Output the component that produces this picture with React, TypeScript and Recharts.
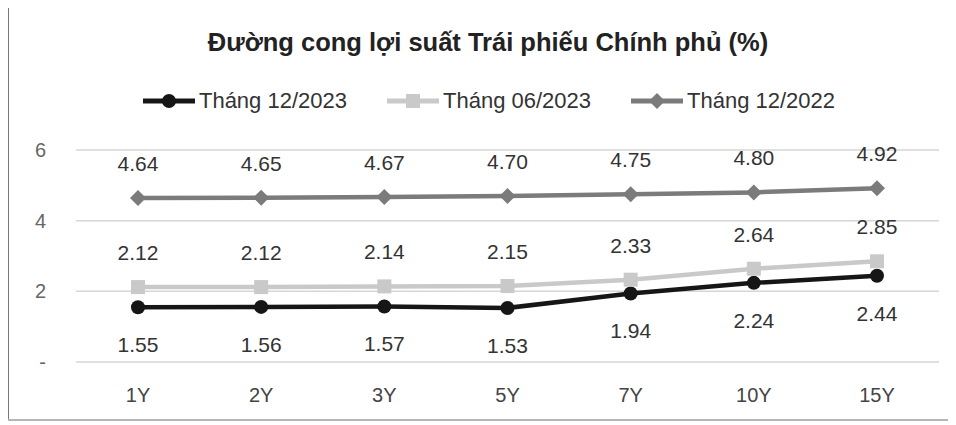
import React from "react"
import { LineChart, Line, XAxis, YAxis, CartesianGrid, Legend, LabelList } from "recharts"

const tenors = ["1Y", "2Y", "3Y", "5Y", "7Y", "10Y", "15Y"]
const dec2023 = [1.55, 1.56, 1.57, 1.53, 1.94, 2.24, 2.44]
const jun2023 = [2.12, 2.12, 2.14, 2.15, 2.33, 2.64, 2.85]
const dec2022 = [4.64, 4.65, 4.67, 4.7, 4.75, 4.8, 4.92]
const yTicks = [0, 2, 4, 6]
const seriesOrder = ["dec2023", "jun2023", "dec2022"]

const data = tenors.map((t, i) => ({
  tenor: t,
  dec2023: dec2023[i],
  jun2023: jun2023[i],
  dec2022: dec2022[i],
}))

const FONT = "'Liberation Sans', Arial, sans-serif"
const C_DEC23 = "#161616"
const C_JUN23 = "#c9c9c9"
const C_DEC22 = "#7b7b7b"

const markerFor = (key: string, color: string, cx: number, cy: number) => {
  if (key === "dec2023") return <circle cx={cx} cy={cy} r={7} fill={color} />
  if (key === "jun2023") return <rect x={cx - 7} y={cy - 7} width={14} height={14} fill={color} />
  return <polygon points={`${cx},${cy - 8} ${cx + 8},${cy} ${cx},${cy + 8} ${cx - 8},${cy}`} fill={color} />
}

const dot = (key: string, color: string) => (props: any) => {
  const { cx, cy, index } = props
  if (cx == null || cy == null) return <g key={`${key}-${index}`} />
  return <g key={`${key}-${index}`}>{markerFor(key, color, cx, cy)}</g>
}

const LegendContent = (props: any) => {
  const items = [...(props.payload || [])].sort(
    (a: any, b: any) => seriesOrder.indexOf(a.dataKey) - seriesOrder.indexOf(b.dataKey)
  )
  return (
    <div style={{ display: "flex", justifyContent: "center", gap: 38, fontFamily: FONT, fontSize: 22, color: "#333" }}>
      {items.map((p: any) => (
        <div key={p.dataKey} style={{ display: "flex", alignItems: "center" }}>
          <svg width={56} height={18} style={{ marginRight: 2 }}>
            <line x1={2} y1={9} x2={54} y2={9} stroke={p.color} strokeWidth={5} />
            {markerFor(p.dataKey, p.color, 28, 9)}
          </svg>
          <span>{p.value}</span>
        </div>
      ))}
    </div>
  )
}

const fmt = (v: number) => v.toFixed(2)
const labelStyle = { fill: "#333", fontSize: 21, fontFamily: FONT }

export default function App() {
  return (
    <div
      style={{
        marginLeft: -8,
        marginTop: -8,
        width: 956,
        height: 425,
        position: "relative",
        background: "#fff",
      }}
    >
      <div
        style={{
          position: "absolute",
          top: 28,
          left: 10,
          width: 956,
          textAlign: "center",
          fontFamily: FONT,
          fontWeight: "bold",
          fontSize: 25.5,
          color: "#222",
        }}
      >
        Đường cong lợi suất Trái phiếu Chính phủ (%)
      </div>
      <div style={{ position: "absolute", top: 0, left: 0 }}>
        <LineChart width={956} height={425} data={data} margin={{ top: 150, right: 17, bottom: 33, left: 8 }}>
          <CartesianGrid vertical={false} stroke="#d6d6d6" strokeWidth={1.5} />
          <XAxis
            dataKey="tenor"
            axisLine={false}
            tickLine={false}
            padding={{ left: 62, right: 62 }}
            tick={{ fill: "#444", fontSize: 20, fontFamily: FONT }}
            dy={18}
          />
          <YAxis
            domain={[0, 6]}
            ticks={yTicks}
            axisLine={false}
            tickLine={false}
            width={68}
            tick={{ fill: "#666", fontSize: 20, fontFamily: FONT }}
            tickFormatter={(v: number) => (v === 0 ? "-" : String(v))}
            dx={-22}
          />
          <Legend
            verticalAlign="middle"
            align="center"
            layout="horizontal"
            wrapperStyle={{ top: 88, left: 10, width: 956 }}
            content={<LegendContent />}
          />
          <Line
            dataKey="dec2023"
            name="Tháng 12/2023"
            stroke={C_DEC23}
            strokeWidth={4.5}
            dot={dot("dec2023", C_DEC23)}
            isAnimationActive={false}
          >
            <LabelList dataKey="dec2023" position="bottom" offset={30} formatter={fmt} style={labelStyle} />
          </Line>
          <Line
            dataKey="jun2023"
            name="Tháng 06/2023"
            stroke={C_JUN23}
            strokeWidth={4.5}
            dot={dot("jun2023", C_JUN23)}
            isAnimationActive={false}
          >
            <LabelList dataKey="jun2023" position="top" offset={27} formatter={fmt} style={labelStyle} />
          </Line>
          <Line
            dataKey="dec2022"
            name="Tháng 12/2022"
            stroke={C_DEC22}
            strokeWidth={4.5}
            dot={dot("dec2022", C_DEC22)}
            isAnimationActive={false}
          >
            <LabelList dataKey="dec2022" position="top" offset={27} formatter={fmt} style={labelStyle} />
          </Line>
        </LineChart>
      </div>
      <svg
        width={956}
        height={425}
        style={{ position: "absolute", top: 0, left: 0, pointerEvents: "none" }}
      >
        <line x1={8} y1={6} x2={956} y2={6} stroke="#d5d5d5" strokeWidth={2} />
        <line x1={8} y1={6} x2={8} y2={421} stroke="#777" strokeWidth={2} />
        <line x1={8} y1={420} x2={956} y2={420} stroke="#b5b5b5" strokeWidth={2} />
      </svg>
    </div>
  )
}
